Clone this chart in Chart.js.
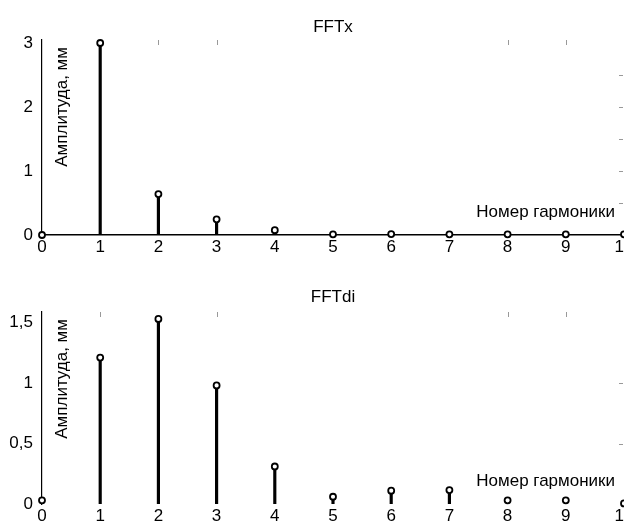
<!DOCTYPE html>
<html lang="ru">
<head>
    <meta charset="UTF-8">
    <title>FFTx / FFTdi</title>
    <script src="https://cdn.jsdelivr.net/npm/chart.js@4.4.1/dist/chart.umd.min.js"></script>
    <style>
        html, body {margin: 0;padding: 0;width: 624px;height: 531px;overflow: hidden;background: #fff;}
        .box {position: absolute;left: 0;width: 660px;}
    </style>
</head>
<body>
<div class="box" style="top: 0;height: 265px;"><canvas id="fftx" width="660" height="265"></canvas></div>
<div class="box" style="top: 265px;height: 266px;"><canvas id="fftdi" width="660" height="266"></canvas></div>
<script>
    // номера гармоник (ось X)
    const harmonics = ['0', '1', '2', '3', '4', '5', '6', '7', '8', '9', '10'];
    // амплитуды, мм
    const fftxValues = [0, 3.0, 0.64, 0.245, 0.075, 0.01, 0.015, 0.01, 0.01, 0.01, 0.01];
    const fftdiValues = [0.03, 1.21, 1.53, 0.98, 0.31, 0.06, 0.11, 0.115, 0.03, 0.03, 0.005];
    // подписи делений оси Y
    const fftxYTicks = [0, 1, 2, 3];
    const fftdiYTicks = [0, 0.5, 1, 1.5];

    const FONT = '"Liberation Sans", Arial, sans-serif';
    Chart.defaults.font.family = FONT;
    Chart.defaults.font.size = 17;
    Chart.defaults.color = '#000';

    // заголовок, подписи осей внутри поля и мелкие засечки сверху/справа
    const stemDecor = {
        id: 'stemDecor',
        afterDraw(chart, args, opts) {
            const {ctx, chartArea: a, scales: {x, y}} = chart;
            ctx.save();
            ctx.fillStyle = '#000';
            ctx.font = '17px ' + FONT;
            ctx.textBaseline = 'middle';
            ctx.textAlign = 'center';
            ctx.fillText(opts.title, (a.left + a.right) / 2, a.top - opts.titleGap);
            ctx.textAlign = 'right';
            ctx.fillText(opts.xTitle, a.right - 9, a.bottom - 23);
            ctx.translate(a.left + 20, a.top + 7);
            ctx.rotate(-Math.PI / 2);
            ctx.fillText(opts.yTitle, 0, 0);
            ctx.restore();

            ctx.save();
            ctx.strokeStyle = '#999';
            ctx.lineWidth = 1;
            ctx.beginPath();
            opts.topTicks.forEach(i => {
                const px = Math.round(x.getPixelForValue(i)) + 0.5;
                ctx.moveTo(px, a.top);
                ctx.lineTo(px, a.top + 5);
            });
            opts.rightTicks.forEach(v => {
                const py = Math.round(y.getPixelForValue(v)) + 0.5;
                ctx.moveTo(a.right - 1, py);
                ctx.lineTo(a.right - 5, py);
            });
            ctx.stroke();
            ctx.restore();
        }
    };

    function newStemChart(id, values, yTicks, yMax, padTop, xHeight, showXLine, decor) {
        return new Chart(document.getElementById(id), {
            type: 'bar',
            data: {
                labels: harmonics,
                datasets: [{
                    type: 'line',
                    data: values,
                    showLine: false,
                    pointRadius: 3,
                    pointBorderWidth: 1.8,
                    pointBackgroundColor: '#fff',
                    pointBorderColor: '#000',
                    clip: false
                }, {
                    data: values,
                    backgroundColor: '#000',
                    barThickness: 2.5
                }]
            },
            options: {
                responsive: false,
                animation: false,
                layout: {padding: {top: padTop, right: 36, left: 0, bottom: 0}},
                plugins: {
                    legend: {display: false},
                    tooltip: {enabled: false},
                    stemDecor: decor
                },
                scales: {
                    x: {
                        offset: false,
                        grid: {display: false, drawTicks: false},
                        border: {display: showXLine, color: '#000', width: 1.5},
                        ticks: {padding: 2, maxRotation: 0, autoSkip: false},
                        afterFit: s => { s.height = xHeight; s.paddingLeft = 0; s.paddingRight = 0; }
                    },
                    y: {
                        min: 0,
                        max: yMax,
                        grid: {display: false, drawTicks: false},
                        border: {display: true, color: '#000', width: 1.2},
                        afterBuildTicks: s => { s.ticks = yTicks.map(v => ({value: v})); },
                        ticks: {padding: 9, callback: v => String(v).replace('.', ',')},
                        afterFit: s => { s.width = 42; s.paddingTop = 0; s.paddingBottom = 0; }
                    }
                }
            },
            plugins: [stemDecor]
        });
    }

    newStemChart('fftx', fftxValues, fftxYTicks, 3.047, 40, 30, true, {
        title: 'FFTx', titleGap: 13,
        xTitle: 'Номер гармоники', yTitle: 'Амплитуда, мм',
        topTicks: [2, 3, 8, 9],
        rightTicks: [0.5, 1, 1.5, 2, 2.5]
    });

    newStemChart('fftdi', fftdiValues, fftdiYTicks, 1.587, 47, 27, false, {
        title: 'FFTdi', titleGap: 15,
        xTitle: 'Номер гармоники', yTitle: 'Амплитуда, мм',
        topTicks: [1, 3, 8, 9],
        rightTicks: [0.5, 1]
    });
</script>
</body>
</html>
